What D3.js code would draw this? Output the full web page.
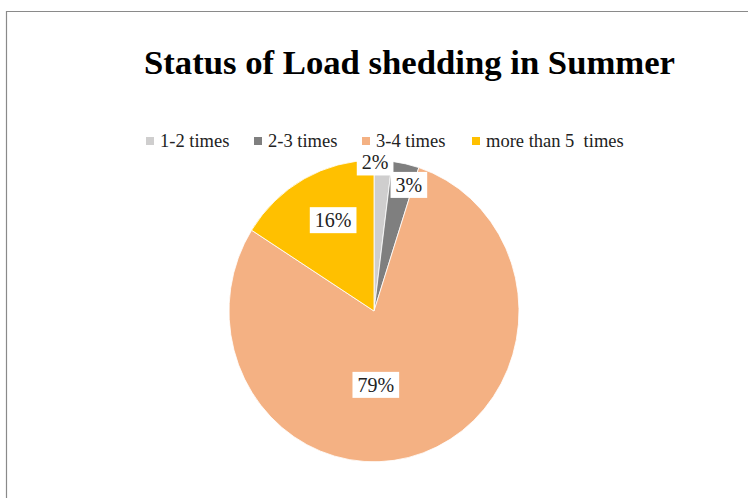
<!DOCTYPE html>
<html>
<head>
<meta charset="utf-8">
<script src="https://cdn.jsdelivr.net/npm/d3@7"></script>
<style>
  html, body { margin: 0; padding: 0; background: #fff; }
  svg { display: block; }
</style>
</head>
<body>
<svg id="chart" width="748" height="498"></svg>
<script>
const categories = ["1-2 times", "2-3 times", "3-4 times", "more than 5  times"];
const values = [2, 3, 79, 16];
const colors = ["#CFCECE", "#7F7F7F", "#F4B183", "#FFC000"];
const title = "Status of Load shedding in Summer";

const W = 748, H = 498;
const svg = d3.select("#chart");
const font = "'Liberation Serif', 'Times New Roman', serif";

// frame
svg.append("path")
  .attr("d", "M6.5,498 L6.5,11.5 L748,11.5")
  .attr("fill", "none").attr("stroke", "#8a8a8a").attr("stroke-width", 1.2);

// title
svg.append("text")
  .attr("x", 409.5).attr("y", 74)
  .attr("text-anchor", "middle")
  .attr("font-family", font).attr("font-weight", "bold").attr("font-size", 34)
  .attr("textLength", 531).attr("lengthAdjust", "spacingAndGlyphs")
  .attr("fill", "#000")
  .text(title);

// legend
const legendX = [146, 254, 362, 472];
const legend = svg.append("g");
categories.forEach((c, i) => {
  const g = legend.append("g").attr("transform", `translate(${legendX[i]},0)`);
  g.append("rect").attr("x", 0).attr("y", 137).attr("width", 8).attr("height", 8).attr("fill", colors[i]);
  g.append("text").attr("x", 14).attr("y", 147)
    .attr("font-family", font).attr("font-size", 18.5).attr("fill", "#222")
    .style("white-space", "pre").attr("xml:space", "preserve")
    .text(c);
});

// pie
const cx = 374, cy = 311, r = 145, ky = 1.04;
const pie = d3.pie().sort(null).value(d => d)(values);
const arc = d3.arc().innerRadius(0).outerRadius(r);
const pg = svg.append("g").attr("transform", `translate(${cx},${cy}) scale(1,${ky})`);
pg.selectAll("path").data(pie).enter().append("path")
  .attr("d", arc)
  .attr("fill", (d, i) => colors[i])
  .attr("stroke", "#fff").attr("stroke-width", 0.8);

// labels (placed by angle/radius relative to each slice)
const labelPlace = [
  { da: -0.055, rr: 0.985 },
  { da: 0.06, rr: 0.87 },
  { da: 0.32, rr: 0.49 },
  { da: 0.065, rr: 0.665 }
];
const lg = svg.append("g");
pie.forEach((d, i) => {
  const a = (d.startAngle + d.endAngle) / 2 + labelPlace[i].da;
  const rr = r * labelPlace[i].rr;
  const x = cx + rr * Math.sin(a);
  const y = cy - rr * Math.cos(a) * ky;
  const g = lg.append("g");
  const t = g.append("text")
    .attr("x", x).attr("y", y)
    .attr("text-anchor", "middle").attr("dominant-baseline", "central")
    .attr("font-family", font).attr("font-size", 20).attr("fill", "#222")
    .text(d3.format(".0%")(d.data / d3.sum(values)));
  const b = t.node().getBBox();
  g.insert("rect", "text")
    .attr("x", b.x - 5).attr("y", b.y - 2)
    .attr("width", b.width + 10).attr("height", b.height + 4)
    .attr("fill", "#fff");
});
</script>
</body>
</html>
